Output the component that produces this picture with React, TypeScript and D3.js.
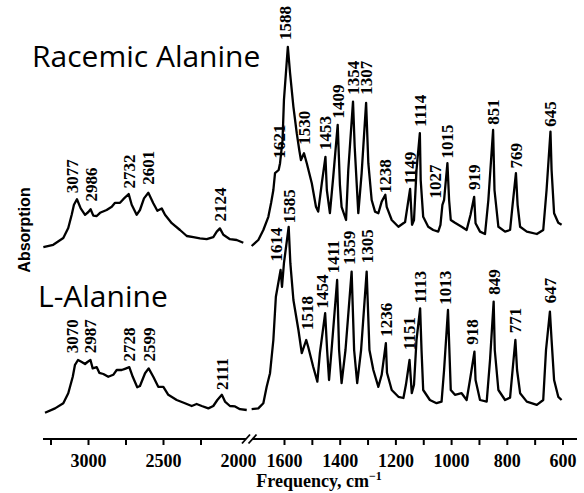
import React from "react";
import * as d3 from "d3";

// [wavenumber cm^-1, absorption (arb. units, stacked)]
const racemicHigh: [number, number][] = [
  [3301, 48.2], [3235, 48.8], [3168, 50.5], [3135, 53], [3112, 56.3], [3097, 58.8], [3077, 60.2],
  [3052, 57.9], [3023, 56.3], [3001, 57], [2986, 57.7], [2968, 56.1], [2945, 56], [2923, 56.8],
  [2879, 57.5], [2845, 58.3], [2823, 59.3], [2790, 59.3], [2768, 60.2], [2732, 61.5], [2712, 58.8],
  [2679, 56.3], [2657, 57.5], [2630, 60.4], [2601, 61.8], [2568, 59.2], [2541, 57.3], [2512, 57.9],
  [2490, 56.3], [2445, 54.2], [2390, 52.5], [2345, 51], [2301, 50.7], [2257, 50.4], [2212, 50.2],
  [2168, 50.7], [2145, 52.1], [2124, 52.9], [2101, 51.3], [2057, 50.2], [2012, 50], [1968, 49.3],
];
const racemicLow: [number, number][] = [
  [1718, 48.5], [1694, 50], [1676, 52.5], [1658, 55.8], [1648, 59.3], [1640, 62.5], [1634, 66.7],
  [1621, 67.5], [1616, 69.2], [1607, 75], [1602, 85], [1588, 98.3], [1580, 91.7], [1568, 83.3],
  [1556, 76.7], [1547, 72.5], [1541, 70], [1530, 71.7], [1520, 69.2], [1502, 64.2], [1487, 58.3],
  [1479, 57.1], [1466, 64.2], [1453, 70.8], [1448, 62.5], [1437, 56.7], [1425, 65.8], [1409, 78.8],
  [1401, 63.8], [1395, 58.3], [1379, 55], [1371, 67.5], [1354, 84.6], [1348, 73.3], [1335, 56.7],
  [1323, 66.7], [1307, 84.3], [1299, 69.2], [1287, 60], [1275, 57.1], [1263, 56.7], [1251, 59.6],
  [1238, 61.3], [1233, 58.3], [1215, 55], [1191, 53.3], [1167, 54.5], [1149, 62.8], [1142, 53.8],
  [1135, 55], [1126, 67.5], [1114, 76.7], [1111, 65], [1102, 55.8], [1084, 53.3], [1066, 52.5],
  [1048, 52.1], [1040, 53.8], [1033, 58.8], [1027, 60], [1015, 69.2], [1009, 60], [1003, 55],
  [988, 54.3], [964, 53.3], [946, 52.5], [932, 56.3], [919, 60.8], [914, 54.2], [898, 52.1],
  [880, 51.5], [868, 60], [851, 77.5], [846, 62.5], [832, 53.3], [808, 52.1], [790, 52.5],
  [781, 58.8], [769, 66.7], [763, 58.8], [754, 53.3], [730, 52.1], [694, 51.5], [671, 52.5],
  [659, 62.5], [645, 77.1], [641, 67.5], [632, 56.7], [617, 54.3], [605, 53.8],
];
const lHigh: [number, number][] = [
  [3290, 6.8], [3223, 7.9], [3168, 9.2], [3135, 11.7], [3105, 15.8], [3090, 18.8], [3070, 20],
  [3045, 19.5], [3023, 19], [3007, 19.5], [2987, 20], [2972, 17.9], [2945, 18.2], [2928, 16.8],
  [2901, 16.5], [2868, 15.8], [2835, 16.3], [2812, 17.5], [2779, 17.5], [2757, 17.8], [2728, 18.2],
  [2705, 15.8], [2675, 13.2], [2657, 13.5], [2623, 16.7], [2599, 17.9], [2568, 15.8], [2535, 13.3],
  [2501, 13.3], [2468, 11.3], [2412, 10], [2357, 9.2], [2312, 8.5], [2279, 9], [2245, 8.5],
  [2201, 7.9], [2168, 8.5], [2141, 10], [2111, 11.3], [2090, 9.6], [2057, 8.5], [2023, 8.4],
  [1990, 7.7], [1945, 7.5],
];
const lLow: [number, number][] = [
  [1718, 7.7], [1694, 7.9], [1676, 9.2], [1664, 13.3], [1652, 16.7], [1640, 25], [1631, 35.8],
  [1614, 42.5], [1609, 38.3], [1602, 44.2], [1585, 53.3], [1579, 44.2], [1568, 35], [1550, 27.5],
  [1538, 21.7], [1522, 25], [1515, 23.3], [1497, 18.3], [1482, 14.6], [1473, 21.7], [1454, 31.7],
  [1447, 22.5], [1440, 15], [1431, 22.5], [1411, 40], [1404, 22.5], [1395, 14.2], [1381, 22.5],
  [1359, 42.1], [1350, 22.5], [1339, 14.2], [1325, 22.5], [1305, 42.1], [1295, 22.5], [1281, 17.5],
  [1263, 13.3], [1251, 16.3], [1236, 24.2], [1232, 16.8], [1215, 12.5], [1191, 10.8], [1173, 10.5],
  [1164, 13.8], [1151, 20], [1143, 11.7], [1135, 13.8], [1126, 25], [1113, 32.9], [1108, 22.5],
  [1102, 12.5], [1078, 10], [1054, 9.2], [1036, 9.6], [1027, 17.5], [1013, 32.5], [1008, 22.5],
  [1003, 12.5], [988, 11.3], [964, 11.7], [946, 10], [934, 15], [918, 22.1], [914, 15], [898, 10],
  [874, 9.6], [862, 20], [849, 34.6], [845, 22.5], [832, 12.5], [808, 10], [790, 10.6], [781, 17.5],
  [771, 25], [765, 17.5], [754, 11.7], [730, 9.6], [694, 8.8], [671, 10], [661, 22.5], [647, 32.1],
  [641, 25], [632, 15], [617, 10.8], [605, 10],
];

// peak labels: [wavenumber, absorption level at which label starts]
const racemicPeaks: [number, number][] = [
  [3077, 61.7], [2986, 59.6], [2732, 62.9], [2601, 63.8], [2124, 54.6], [1621, 70.4], [1588, 100],
  [1530, 73.8], [1453, 72.5], [1409, 80.4], [1354, 86.3], [1307, 86.3], [1238, 61.7], [1149, 63.8],
  [1114, 78.3], [1027, 60.4], [1015, 70.4], [919, 62.5], [851, 78.8], [769, 67.9], [645, 78.3],
];
const lPeaks: [number, number][] = [
  [3070, 21.7], [2987, 21.7], [2728, 19.6], [2599, 19.6], [2111, 12.5], [1614, 44.6], [1585, 54.2],
  [1518, 27.5], [1454, 32.9], [1411, 41.7], [1359, 43.8], [1305, 44.2], [1236, 25.8], [1151, 22.5],
  [1113, 34.2], [1013, 33.8], [918, 23.8], [849, 36.3], [771, 26.7], [647, 34.2],
];

const highMajor = [3000, 2500, 2000];
const highMinor = [3250, 2750, 2250];
const lowMajor = [1600, 1400, 1200, 1000, 800, 600];
const lowMinor = [1500, 1300, 1100, 900, 700];

// layout nudges (px) for crowded labels
const labelNudge: Record<string, number> = {
  "3077": -4.5, "3070": -6, "1614": -5, "1454": -3.5, "1411": -4.5, "1027": -9, "1588": -2.5,
  "1013": -3, "918": -2.5, "1359": -2.5,
};

export default function App() {
  const xHigh = d3.scaleLinear().domain([3000, 2000]).range([88.5, 238.5]);
  const xLow = d3.scaleLinear().domain([1600, 600]).range([284.5, 563]);
  const y = d3.scaleLinear().domain([0, 110]).range([440, 0]);
  const lineHigh = d3.line<[number, number]>().x((d) => xHigh(d[0])).y((d) => y(d[1]));
  const lineLow = d3.line<[number, number]>().x((d) => xLow(d[0])).y((d) => y(d[1]));
  const xOf = (f: number) => (f >= 1800 ? xHigh(f) : xLow(f));
  const axisY = 439;
  const serif = "'Liberation Serif', 'Times New Roman', serif";

  const renderLabels = (peaks: [number, number][], key: string) =>
    peaks.map(([f, lv]) => {
      const px = xOf(f) + (labelNudge[String(f)] ?? 0);
      return (
        <text
          key={key + f}
          transform={`translate(${px},${y(lv)}) rotate(-90)`}
          dy="0.35em"
          fontFamily={serif}
          fontWeight="bold"
          fontSize={17}
          fill="#000"
        >
          {f}
        </text>
      );
    });

  return (
    <svg
      width={584}
      height={493}
      style={{ position: "absolute", left: 0, top: 0, background: "#fff" }}
    >
      <rect width={584} height={493} fill="#fff" />
      {[racemicHigh, lHigh].map((d, i) => (
        <path key={"h" + i} d={lineHigh(d) || ""} fill="none" stroke="#000" strokeWidth={2.3} strokeLinejoin="round" />
      ))}
      {[racemicLow, lLow].map((d, i) => (
        <path key={"l" + i} d={lineLow(d) || ""} fill="none" stroke="#000" strokeWidth={2.3} strokeLinejoin="round" />
      ))}
      {renderLabels(racemicPeaks, "r")}
      {renderLabels(lPeaks, "l")}

      <text x={32} y={67} fontFamily="'Open Sans', 'Noto Sans', sans-serif" fontSize={30} fill="#000">
        Racemic Alanine
      </text>
      <text x={38} y={306.5} fontFamily="'Open Sans', 'Noto Sans', sans-serif" fontSize={30} fill="#000">
        L-Alanine
      </text>
      <text
        transform="translate(24,230) rotate(-90)"
        textAnchor="middle"
        dy="0.35em"
        fontFamily="'Liberation Sans', Arial, sans-serif"
        fontWeight="bold"
        fontSize={16}
        fill="#000"
      >
        Absorption
      </text>

      {/* axis */}
      <line x1={43} x2={246} y1={axisY} y2={axisY} stroke="#000" strokeWidth={2} />
      <line x1={252.5} x2={577} y1={axisY} y2={axisY} stroke="#000" strokeWidth={2} />
      <line x1={242} x2={250} y1={axisY + 4.5} y2={axisY - 4.5} stroke="#000" strokeWidth={1.8} />
      <line x1={248.5} x2={256.5} y1={axisY + 4.5} y2={axisY - 4.5} stroke="#000" strokeWidth={1.8} />
      {[...highMajor.filter((t) => t !== 2000), ...highMinor].map((t) => (
        <line key={"ht" + t} x1={xHigh(t)} x2={xHigh(t)} y1={axisY} y2={axisY + 6} stroke="#000" strokeWidth={2} />
      ))}
      {[...lowMajor, ...lowMinor].map((t) => (
        <line key={"lt" + t} x1={xLow(t)} x2={xLow(t)} y1={axisY} y2={axisY + 6} stroke="#000" strokeWidth={2} />
      ))}
      {highMajor.map((t) => (
        <text key={"hl" + t} x={xHigh(t)} y={466.5} textAnchor="middle" fontFamily={serif} fontWeight="bold" fontSize={18}>
          {t}
        </text>
      ))}
      {lowMajor.map((t) => (
        <text key={"ll" + t} x={xLow(t)} y={466.5} textAnchor="middle" fontFamily={serif} fontWeight="bold" fontSize={18}>
          {t}
        </text>
      ))}
      <text x={319} y={487} textAnchor="middle" fontFamily={serif} fontWeight="bold" fontSize={18}>
        Frequency, cm
        <tspan fontSize={12} dy={-7}>
          −1
        </tspan>
      </text>
    </svg>
  );
}
